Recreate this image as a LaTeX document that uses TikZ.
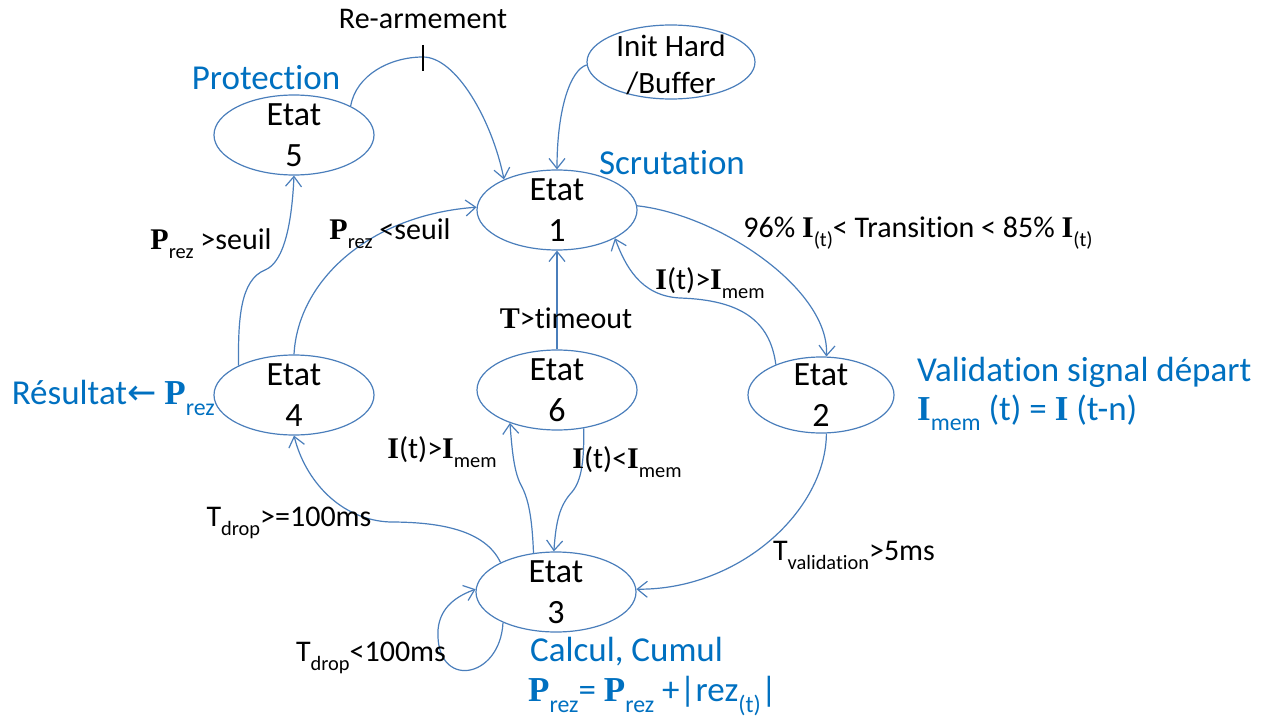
\documentclass[tikz,border=0pt]{standalone}
\usepackage{fontspec}
\usepackage{graphicx}
\setmainfont{Carlito}[Ligatures=NoCommon]
\newfontfamily\symf{Liberation Serif}
\newfontfamily\arrf{DejaVu Sans}
\usetikzlibrary{arrows.meta,shapes.geometric}
\definecolor{lineblue}{HTML}{4A7EBB}
\definecolor{txtblue}{HTML}{0070C0}
\newcommand\bP{{\symf\bfseries P}}
\newcommand\bI{{\symf\bfseries I}}
\newcommand\bT{{\symf\bfseries T}}
\newcommand\sbs[1]{\raisebox{-0.3em}{\scalebox{0.68}{#1}}}
\begin{document}
\begin{tikzpicture}[x=1pt,y=-1pt,
 state/.style={ellipse,draw=lineblue,line width=1.2pt,minimum width=160pt,minimum height=80pt,inner sep=0pt},
 stxt/.style={align=center,inner sep=0pt,font=\fontsize{34}{42}\selectfont},
 conn/.style={draw=lineblue,line width=1.2pt,-{Straight Barb[length=10pt,width=16pt]}},
 lab/.style={font=\fontsize{30}{34}\selectfont,inner sep=0pt},
 blab/.style={text=txtblue,font=\fontsize{35}{38}\selectfont,inner sep=0pt}]
\useasboundingbox (0,0) rectangle (1262,717);

% states
\node[state,label={[stxt]center:Etat\\[-1pt]1}] (e1) at (557,210) {};
\node[state,label={[stxt]center:Etat\\[-1pt]5}] (e5) at (294,135) {};
\node[state,minimum width=168pt,minimum height=74pt,label={[stxt,font=\fontsize{31}{37}\selectfont,yshift=-3pt]center:Init Hard\\/Buffer}] (init) at (671,62) {};
\node[state,label={[stxt]center:Etat\\[-1pt]4}] (e4) at (294,395) {};
\node[state,label={[stxt]center:Etat\\[-1pt]6}] (e6) at (557,390) {};
\node[state,minimum width=146pt,minimum height=76pt,label={[stxt]center:Etat\\[-1pt]2}] (e2) at (821,395) {};
\node[state,label={[stxt]center:Etat\\[-1pt]3}] (e3) at (556,592) {};

% connectors
\coordinate (tk) at (423,57);
\draw[conn] (e5.27) .. controls (356,75) and (390,57) .. (tk) .. controls (456,57) and (492,120) .. (e1.150);
\draw[black,line width=1.2pt] ([yshift=12pt]tk) -- ([yshift=-14pt]tk);
\draw[conn] (init.182) .. controls (570,70) and (557,110) .. (e1.north);
\draw[conn] (e1.3) .. controls (720,215) and (830,290) .. (e2.82);
\draw[conn] (e2.146) .. controls (770,320) and (740,300) .. (680,298) .. controls (640,296) and (625,265) .. (e1.-26);
\draw[conn] (e6.north) -- (e1.south);
\draw[conn] (e3.120) .. controls (532,515) and (528,498) .. (521,485) .. controls (514,472) and (512,450) .. (e6.-145);
\draw[conn] (e6.-55) .. controls (584,460) and (582,480) .. (572,492) .. controls (560,505) and (556,520) .. (e3.93);
\draw[conn] (e2.-82) .. controls (826,510) and (740,590) .. (e3.2);
\draw[conn] (e3.152) .. controls (485,530) and (440,522) .. (390,522) .. controls (340,520) and (305,480) .. (e4.south);
\draw[conn] (e3.-150) .. controls (500,680) and (435,690) .. (438,630) .. controls (440,605) and (460,595) .. (e3.178);
\draw[conn] (e4.152) .. controls (238,320) and (240,280) .. (265,270) .. controls (285,262) and (292,220) .. (e5.south);
\draw[conn] (e4.north) .. controls (298,280) and (370,215) .. (e1.178);

% edge labels
\node[lab] (lrearm) at (423,19) {Re-armement};
\node[lab] (ltrans) at (918,233) {96\% \bI\sbs{(t)}< Transition < 85\% \bI\sbs{(t)}};
\node[lab] (lim1) at (710,283) {\bI(t)>\bI\sbs{mem}};
\node[lab] (ltime) at (566,318) {\bT>timeout};
\node[lab] (lim2) at (442,452) {\bI(t)>\bI\sbs{mem}};
\node[lab] (lim3) at (627,462) {\bI(t)<\bI\sbs{mem}};
\node[lab] (lsup) at (211,244) {\bP\sbs{rez} >seuil};
\node[lab] (linf) at (390,234) {\bP\sbs{rez} <seuil};
\node[lab] (ldrop1) at (289,523) {T\sbs{drop}>=100ms};
\node[lab] (ldrop2) at (371,658) {T\sbs{drop}<100ms};
\node[lab] (lval) at (854,555) {T\sbs{validation}>5ms};

% blue annotations
\node[blab] (bprot) at (266,78) {Protection};
\node[blab] (bscr) at (672,163) {Scrutation};
\node[blab,anchor=west] (bval) at (917,372) {Validation signal départ};
\node[blab,anchor=west] (bmem) at (917,413) {\bI\sbs{mem} (t) = \bI\ (t-n)};
\node[blab,anchor=east] (bres) at (215,398) {Résultat{\arrf ←} \bP\sbs{rez}};
\node[blab,anchor=west] (bcalc) at (530,652) {Calcul, Cumul};
\node[blab,anchor=west] (bcum) at (528,696) {\bP\sbs{rez}= \bP\sbs{rez} +|rez\sbs{(t)}|};
\end{tikzpicture}
\end{document}
